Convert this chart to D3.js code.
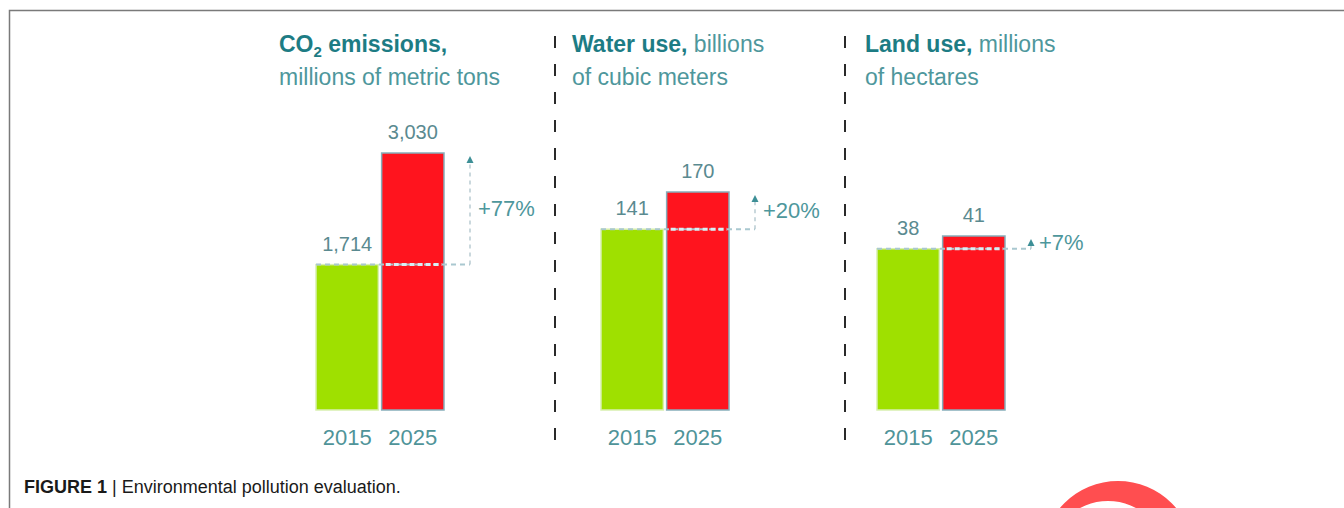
<!DOCTYPE html>
<html>
<head>
<meta charset="utf-8">
<script src="https://cdn.jsdelivr.net/npm/d3@7"></script>
<style>
  body { margin: 0; background: #fff; }
  svg { display: block; font-family: "Liberation Sans", Arial, sans-serif; }
</style>
</head>
<body>
<script>
// data
var years = ["2015", "2025"];
var values2015 = [1714, 141, 38];
var values2025 = [3030, 170, 41];
var changes = ["+77%", "+20%", "+7%"];
var titleBold = ["emissions,", "Water use,", "Land use,"];
var titleRest = ["", " billions", " millions"];
var subtitles = ["millions of metric tons", "of cubic meters", "of hectares"];

// layout of the three panels
var panelLeft = [316, 601, 877],
    panelTop = [153, 192, 236],
    titleX = [279, 572, 865],
    dividerX = [555, 845],
    barBottom = 410,
    groupWidth = 128;

var fmt = d3.format(",");

var svg = d3.select("body").append("svg")
  .attr("width", 1344)
  .attr("height", 508);

// frame
svg.append("path")
  .attr("d", "M9.5,508 V10.5 H1344")
  .attr("fill", "none")
  .attr("stroke", "#7a7a7a")
  .attr("stroke-width", 1.5);

// dashed dividers
svg.selectAll(".divider")
  .data(dividerX)
  .enter().append("line")
  .attr("class", "divider")
  .attr("x1", function(d) { return d; })
  .attr("x2", function(d) { return d; })
  .attr("y1", 36)
  .attr("y2", 440)
  .attr("stroke", "#2a2a2a")
  .attr("stroke-width", 2)
  .attr("stroke-dasharray", "12,16");

values2015.forEach(function(v0, i) {
  var v1 = values2025[i];
  var g = svg.append("g");

  var x = d3.scaleBand()
    .domain(years)
    .range([panelLeft[i], panelLeft[i] + groupWidth])
    .paddingInner(0.05);
  var y = d3.scaleLinear()
    .domain([0, v1])
    .range([barBottom, panelTop[i]]);

  var vals = [v0, v1];

  //title
  var t1 = g.append("text")
    .attr("x", titleX[i])
    .attr("y", 52)
    .attr("font-size", 23);
  if (i == 0) {
    t1.append("tspan").attr("font-weight", "bold").attr("fill", "#1d7c84").text("CO");
    t1.append("tspan").attr("font-weight", "bold").attr("fill", "#1d7c84")
      .attr("font-size", 15).attr("dy", 5).text("2");
    t1.append("tspan").attr("font-weight", "bold").attr("fill", "#1d7c84")
      .attr("dy", -5).text(" " + titleBold[i]);
  } else {
    t1.append("tspan").attr("font-weight", "bold").attr("fill", "#1d7c84").text(titleBold[i]);
  }
  t1.append("tspan").attr("fill", "#4e979c").text(titleRest[i]);

  g.append("text")
    .attr("x", titleX[i])
    .attr("y", 85)
    .attr("font-size", 23)
    .attr("fill", "#4e979c")
    .text(subtitles[i]);

  //bars
  g.selectAll(".bar")
    .data(years)
    .enter().append("rect")
    .attr("x", function(d) { return x(d); })
    .attr("y", function(d, j) { return y(vals[j]); })
    .attr("width", x.bandwidth())
    .attr("height", function(d, j) { return barBottom - y(vals[j]); })
    .attr("fill", function(d, j) { return j == 0 ? "#9fe000" : "#ff141e"; })
    .attr("stroke", function(d, j) { return j == 0 ? "#d8efb0" : "#86aebb"; })
    .attr("stroke-width", 1.5);

  //value labels
  g.selectAll(".val")
    .data(years)
    .enter().append("text")
    .attr("x", function(d) { return x(d) + x.bandwidth() / 2; })
    .attr("y", function(d, j) { return y(vals[j]) - 14; })
    .attr("text-anchor", "middle")
    .attr("font-size", 20)
    .attr("fill", "#5a8a90")
    .text(function(d, j) { return fmt(vals[j]); });

  //year labels
  g.selectAll(".year")
    .data(years)
    .enter().append("text")
    .attr("x", function(d) { return x(d) + x.bandwidth() / 2; })
    .attr("y", 445)
    .attr("text-anchor", "middle")
    .attr("font-size", 22)
    .attr("fill", "#4f9499")
    .text(function(d) { return d; });

  //reference line at 2015 level
  var refY = y(v0);
  var arrowX = x(years[1]) + x.bandwidth() + 26;
  g.append("line")
    .attr("x1", x(years[0]))
    .attr("x2", arrowX)
    .attr("y1", refY)
    .attr("y2", refY)
    .attr("stroke", "#a9c8d0")
    .attr("stroke-width", 2)
    .attr("stroke-dasharray", "5,4");
  g.append("line")
    .attr("x1", x(years[1]) + 4)
    .attr("x2", x(years[1]) + x.bandwidth() - 2)
    .attr("y1", refY)
    .attr("y2", refY)
    .attr("stroke", "#d8eef4")
    .attr("stroke-width", 3)
    .attr("stroke-dasharray", "5,3");

  //arrow up to 2025 level
  var tipY = y(v1) + 3;
  g.append("line")
    .attr("x1", arrowX)
    .attr("x2", arrowX)
    .attr("y1", refY)
    .attr("y2", tipY + 6)
    .attr("stroke", "#b9ccd2")
    .attr("stroke-width", 1.5)
    .attr("stroke-dasharray", "4,4");
  g.append("path")
    .attr("d", "M" + (arrowX - 3.5) + "," + (tipY + 7) + " L" + arrowX + "," + tipY +
      " L" + (arrowX + 3.5) + "," + (tipY + 7) + "Z")
    .attr("fill", "#3d8f96");

  g.append("text")
    .attr("x", arrowX + 8)
    .attr("y", (refY + tipY) / 2 + 6)
    .attr("font-size", 22)
    .attr("fill", "#4e979c")
    .text(changes[i]);
});

// caption
var cap = svg.append("text")
  .attr("x", 24)
  .attr("y", 493)
  .attr("font-size", 18)
  .attr("fill", "#1a1a1a");
cap.append("tspan").attr("font-weight", "bold").text("FIGURE 1");
cap.append("tspan").text(" | Environmental pollution evaluation.");

// red watermark ring, bottom right
var ring = d3.path();
ring.arc(1118, 557, 76, 0, 2 * Math.PI);
ring.moveTo(1108 + 59, 560);
ring.arc(1108, 560, 59, 0, 2 * Math.PI);
svg.append("path")
  .attr("d", ring.toString())
  .attr("fill", "#ff4e50")
  .attr("fill-rule", "evenodd");
</script>
</body>
</html>
